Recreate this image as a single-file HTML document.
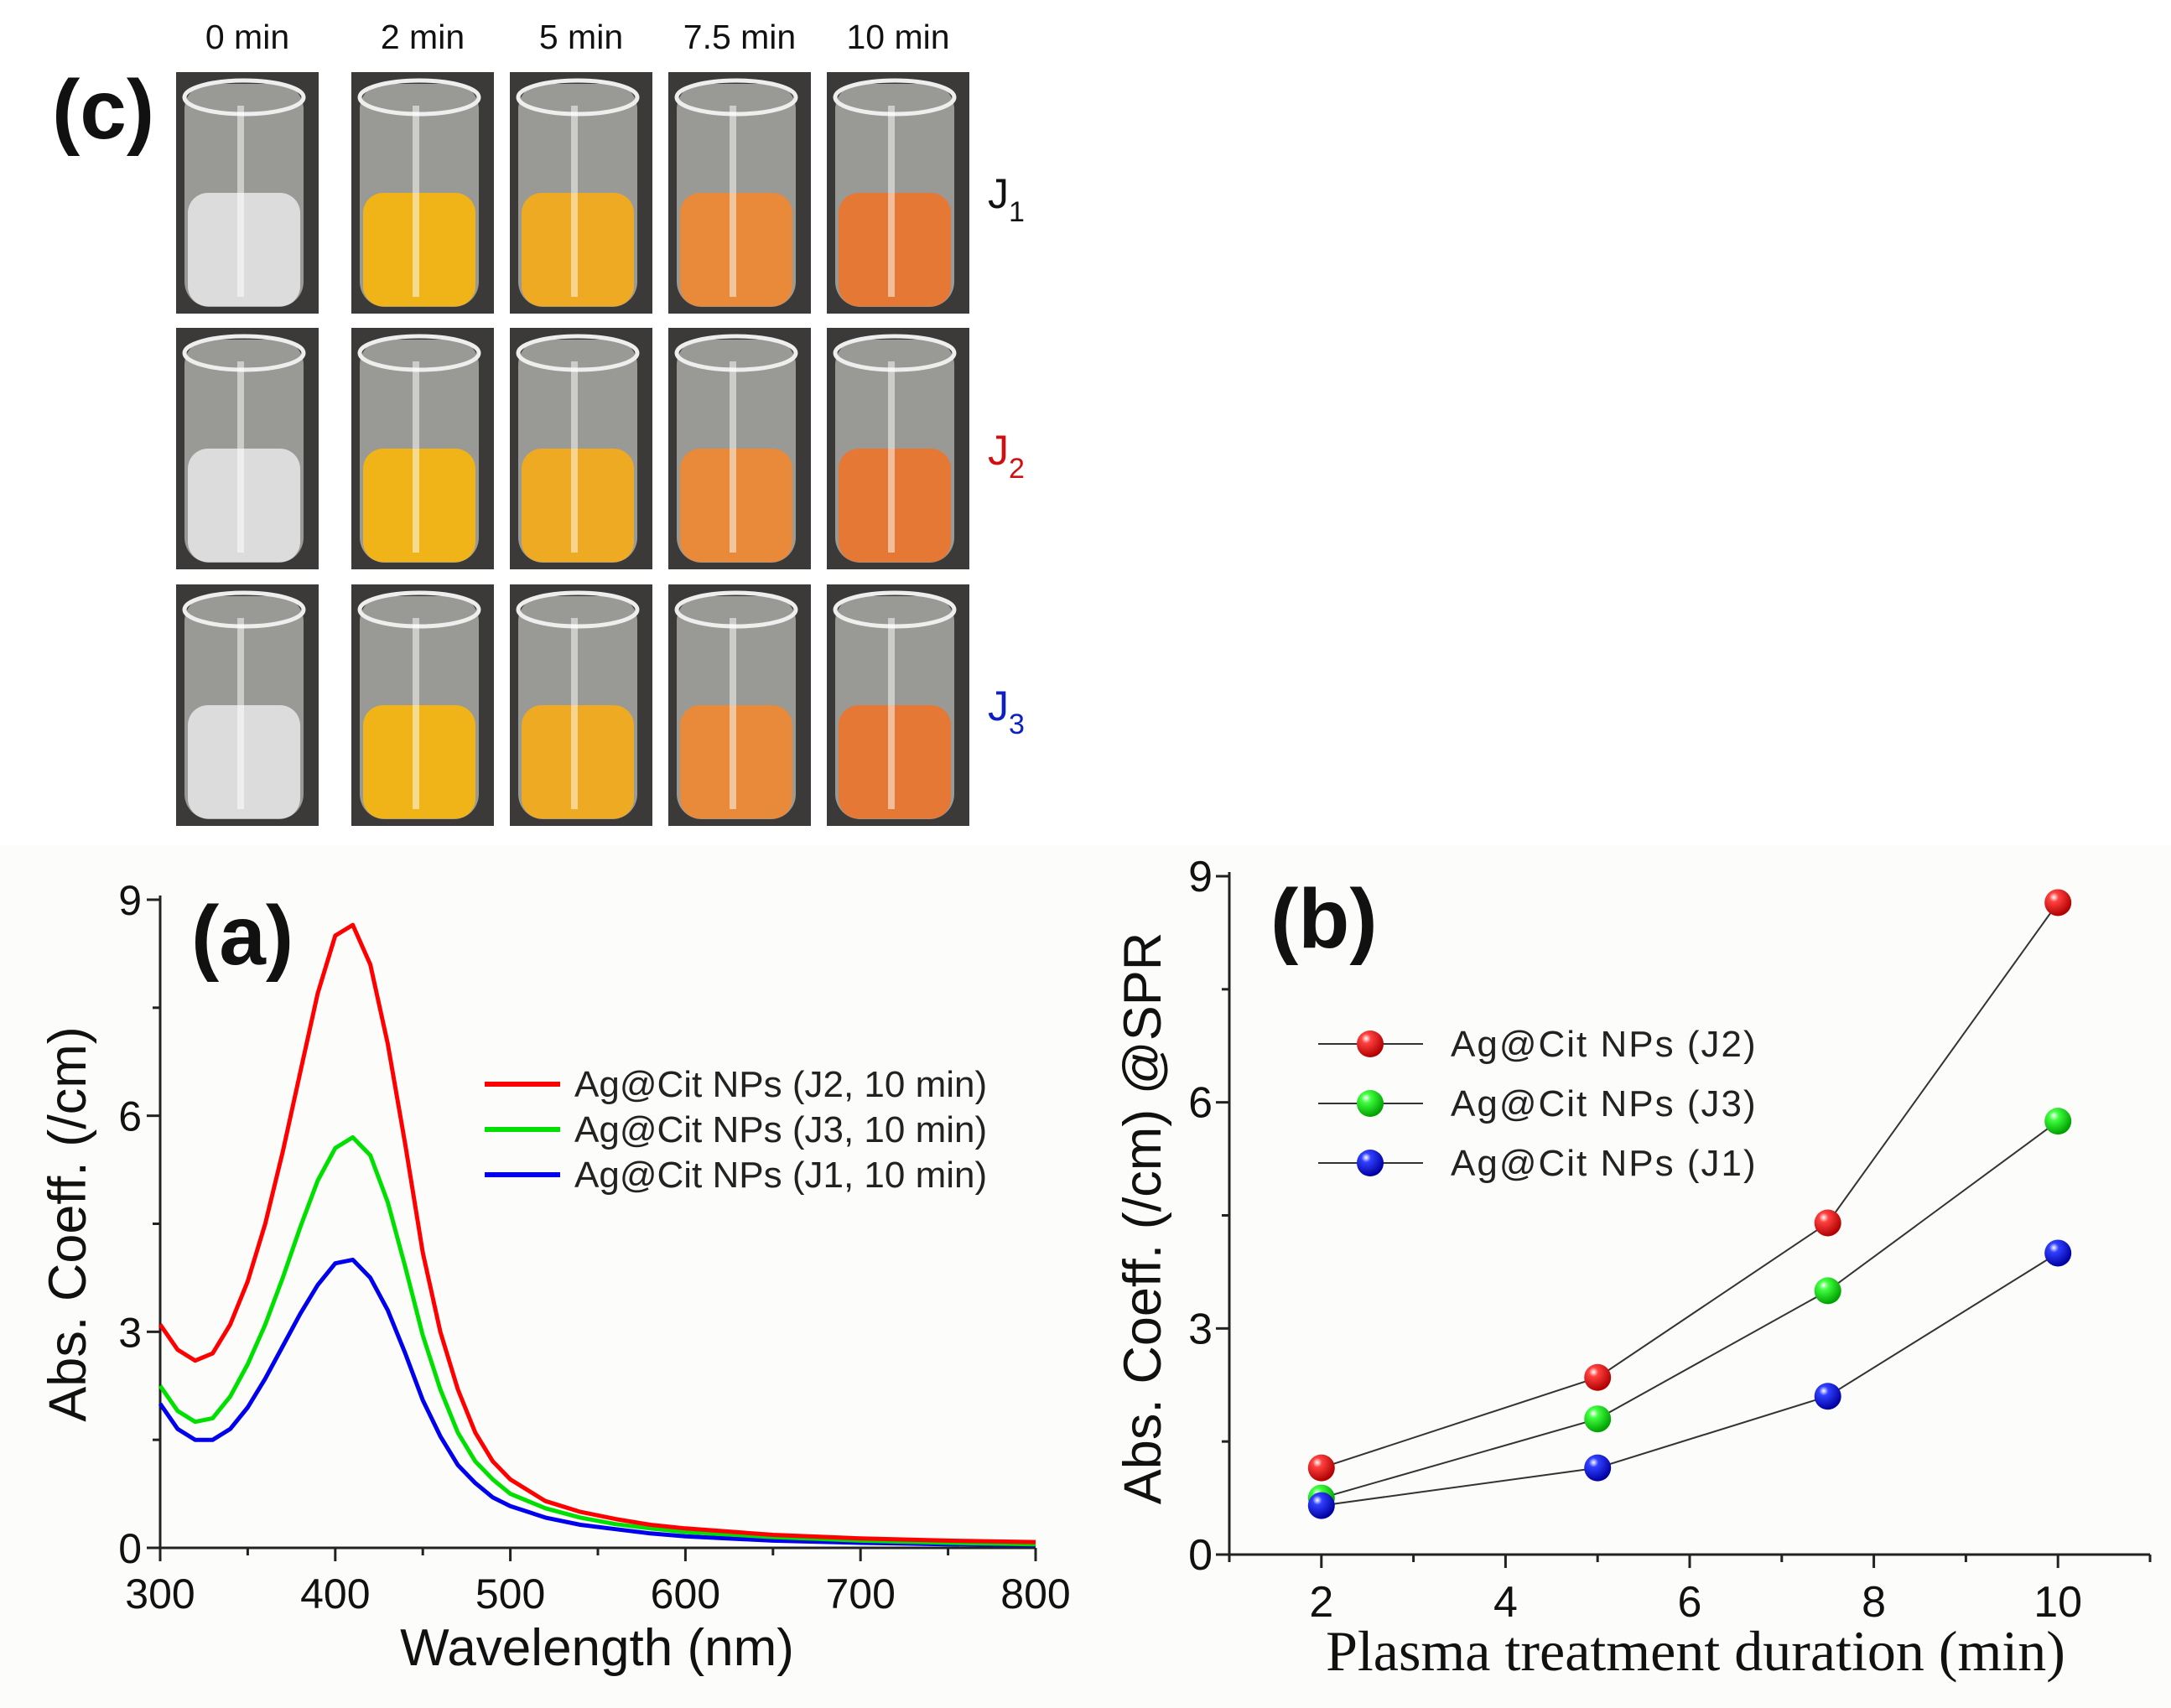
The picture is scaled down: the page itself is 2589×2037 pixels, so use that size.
<!DOCTYPE html>
<html><head><meta charset="utf-8"><style>
html,body{margin:0;padding:0;background:#fff;}
svg{display:block;font-family:"Liberation Sans",sans-serif;}
</style></head><body>
<svg id="fig" width="2589" height="2037" viewBox="0 0 2589 2037">
<defs>
<radialGradient id="gR" cx="0.35" cy="0.3" r="0.7"><stop offset="0" stop-color="#fff"/><stop offset="0.25" stop-color="#ff4040"/><stop offset="1" stop-color="#b00000"/></radialGradient>
<radialGradient id="gG" cx="0.35" cy="0.3" r="0.7"><stop offset="0" stop-color="#fff"/><stop offset="0.25" stop-color="#40ff40"/><stop offset="1" stop-color="#00a000"/></radialGradient>
<radialGradient id="gB" cx="0.35" cy="0.3" r="0.7"><stop offset="0" stop-color="#fff"/><stop offset="0.25" stop-color="#3040ff"/><stop offset="1" stop-color="#0000a0"/></radialGradient>
</defs>
<rect x="0" y="1008" width="1300" height="1029" fill="#fcfcfa"/>
<rect x="1300" y="1008" width="1289" height="1029" fill="#fcfcfa"/>
<g id="photos"></g>
<g id="pa"></g>
<g id="pb"></g>
</svg>
<script>
// ---- Panel (a) data ----
const wl = [300,310,320,330,340,350,360,370,380,390,400,410,420,430,440,450,460,470,480,490,500,520,540,560,580,600,650,700,750,800];
const absJ2 = [3.1,2.75,2.6,2.7,3.1,3.7,4.5,5.5,6.6,7.7,8.5,8.65,8.1,7.0,5.6,4.1,3.0,2.2,1.6,1.2,0.95,0.65,0.5,0.4,0.32,0.27,0.18,0.13,0.1,0.08];
const absJ3 = [2.25,1.9,1.75,1.8,2.1,2.55,3.1,3.75,4.45,5.1,5.55,5.7,5.45,4.8,3.9,2.95,2.2,1.6,1.2,0.95,0.75,0.55,0.42,0.33,0.27,0.22,0.15,0.1,0.07,0.05];
const absJ1 = [2.0,1.65,1.5,1.5,1.65,1.95,2.35,2.8,3.25,3.65,3.95,4.0,3.75,3.3,2.7,2.05,1.55,1.15,0.9,0.7,0.58,0.42,0.32,0.26,0.2,0.16,0.1,0.07,0.05,0.04];
const aXTicks = [300,400,500,600,700,800];
const aYTicks = [0,3,6,9];
const aLegend = ["Ag@Cit NPs (J2, 10 min)","Ag@Cit NPs (J3, 10 min)","Ag@Cit NPs (J1, 10 min)"];
// ---- Panel (b) data ----
const dur = [2,5,7.5,10];
const sprJ2 = [1.15,2.35,4.4,8.65];
const sprJ3 = [0.75,1.8,3.5,5.75];
const sprJ1 = [0.65,1.15,2.1,4.0];
const bXTicks = [2,4,6,8,10];
const bYTicks = [0,3,6,9];
const bLegend = ["Ag@Cit NPs (J2)","Ag@Cit NPs (J3)","Ag@Cit NPs (J1)"];
// ---- Panel (c) ----
const times = ["0 min","2 min","5 min","7.5 min","10 min"];
const liquid = ["#dcdcdc","#f0b418","#eeaa22","#e88a3a","#e67836"];

const NS="http://www.w3.org/2000/svg";
function el(tag,attrs,parent,txt){const e=document.createElementNS(NS,tag);for(const k in attrs)e.setAttribute(k,attrs[k]);if(txt!==undefined)e.textContent=txt;parent.appendChild(e);return e;}

// ===== Photos =====
const ph=document.getElementById('photos');
const colX=[210,419,608,797,986], colW=170, rowY=[86,391,697], rowH=288;
times.forEach((t,i)=>{
  const tx=el('text',{x:colX[i]+colW/2,y:58,'font-size':41,'text-anchor':'middle',fill:'#111'},ph,t);
  
  
});
rowY.forEach((ry,r)=>{
  colX.forEach((cx,i)=>{
    const g=el('g',{},ph);
    
    
    el('rect',{x:cx,y:ry,width:colW,height:rowH,fill:'#3b3a38'},g);
    el('rect',{x:cx+10,y:ry+14,width:colW-28,height:rowH-22,rx:30,fill:'#d8d8d4',opacity:0.6},g);
    el('rect',{x:cx+14,y:ry+rowH*0.5,width:colW-36,height:rowH*0.47,rx:24,fill:liquid[i]},g);
    el('ellipse',{cx:cx+colW/2-4,cy:ry+30,rx:colW/2-14,ry:20,fill:'none',stroke:'#eee','stroke-width':5},g);
    el('rect',{x:cx+colW/2-12,y:ry+40,width:8,height:rowH-60,fill:'#fff',opacity:0.5},g);
  });
});
const cl=el('text',{x:62,y:165,'font-size':100,'font-weight':'bold',fill:'#111'},ph,'(c)');

const jcol=['#111','#d01010','#1020c0'];
[231,537,842].forEach((y,i)=>{
  const t=el('text',{x:1178,y:y+17,'font-size':50,fill:jcol[i]},ph);
  
  
  el('tspan',{},t,'J');
  el('tspan',{dy:16,'font-size':34},t,String(i+1));
});

// ===== Chart (a) =====
const pa=document.getElementById('pa');
const aX0=191,aX1=1235,aY0=1846,aY1=1073;
const ax=v=>aX0+(v-300)/500*(aX1-aX0);
const ay=v=>aY0-(v/9)*(aY0-aY1);
el('line',{x1:aX0,y1:aY1-5,x2:aX0,y2:aY0,stroke:'#222','stroke-width':3},pa);
el('line',{x1:aX0,y1:aY0,x2:aX1,y2:aY0,stroke:'#222','stroke-width':3},pa);
for(let v=300;v<=800;v+=50){const big=v%100===0;el('line',{x1:ax(v),y1:aY0,x2:ax(v),y2:aY0+(big?16:9),stroke:'#222','stroke-width':3},pa);}
for(let v=0;v<=9;v+=1.5){const big=v%3===0;el('line',{x1:aX0,y1:ay(v),x2:aX0-(big?16:9),y2:ay(v),stroke:'#222','stroke-width':3},pa);}
aXTicks.forEach(v=>{const t=el('text',{x:ax(v),y:1918,'font-size':50,'text-anchor':'middle',fill:'#111'},pa,String(v));});
aYTicks.forEach(v=>{const t=el('text',{x:aX0-22,y:ay(v)+18,'font-size':50,'text-anchor':'end',fill:'#111'},pa,String(v));});
const axt=el('text',{x:712,y:1986,'font-size':62,'text-anchor':'middle',fill:'#111'},pa,'Wavelength (nm)');

const ayt=el('text',{x:0,y:0,'font-size':63,'text-anchor':'middle',fill:'#111',transform:'translate(102,1460) rotate(-90)'},pa,'Abs. Coeff. (/cm)');

const al=el('text',{x:228,y:1150,'font-size':100,'font-weight':'bold',fill:'#111'},pa,'(a)');

const aSeries=[[absJ2,'#ff0000'],[absJ3,'#00e000'],[absJ1,'#0000ee']];
aSeries.slice().reverse().forEach(([arr,c],k)=>{
  const pts=wl.map((w,i)=>ax(w).toFixed(1)+','+ay(arr[i]).toFixed(1)).join(' ');
  const p=el('polyline',{points:pts,fill:'none',stroke:c,'stroke-width':5,'stroke-linejoin':'round'},pa);
  
  
});
aLegend.forEach((lab,i)=>{
  const y=1293+i*54;
  const g=el('g',{},pa);
  
  
  el('line',{x1:578,y1:y,x2:668,y2:y,stroke:aSeries[i][1],'stroke-width':6},g);
  el('text',{x:685,y:y+15,'font-size':44,fill:'#222'},g,lab);
});

// ===== Chart (b) =====
const pb=document.getElementById('pb');
const bX0=1466,bX1=2564,bY0=1854,bY1=1045;
const bx=v=>bX0+(v-1)/10*(bX1-bX0);
const by=v=>bY0-(v/9)*(bY0-bY1);
el('line',{x1:bX0,y1:bY1-5,x2:bX0,y2:bY0,stroke:'#222','stroke-width':3},pb);
el('line',{x1:bX0,y1:bY0,x2:bX1,y2:bY0,stroke:'#222','stroke-width':3},pb);
for(let v=1;v<=11;v+=1){const big=v%2===0;el('line',{x1:bx(v),y1:bY0,x2:bx(v),y2:bY0+(big?16:9),stroke:'#222','stroke-width':3},pb);}
for(let v=0;v<=9;v+=1.5){const big=v%3===0;el('line',{x1:bX0,y1:by(v),x2:bX0-(big?16:9),y2:by(v),stroke:'#222','stroke-width':3},pb);}
bXTicks.forEach(v=>{const t=el('text',{x:bx(v),y:1928,'font-size':52,'text-anchor':'middle',fill:'#111'},pb,String(v));});
bYTicks.forEach(v=>{const t=el('text',{x:bX0-20,y:by(v)+18,'font-size':52,'text-anchor':'end',fill:'#111'},pb,String(v));});
const bxt=el('text',{x:2022,y:1992,'font-size':68,'text-anchor':'middle',fill:'#111','font-family':'Liberation Serif, serif'},pb,'Plasma treatment duration (min)');

const byt=el('text',{x:0,y:0,'font-size':63,'text-anchor':'middle',fill:'#111',transform:'translate(1384,1453) rotate(-90)'},pb,'Abs. Coeff. (/cm) @SPR');

const bl=el('text',{x:1515,y:1130,'font-size':100,'font-weight':'bold',fill:'#111'},pb,'(b)');

const bSeries=[[sprJ2,'url(#gR)'],[sprJ3,'url(#gG)'],[sprJ1,'url(#gB)']];
bSeries.forEach(([arr,f])=>{
  const pts=dur.map((d,i)=>bx(d).toFixed(1)+','+by(arr[i]).toFixed(1)).join(' ');
  const p=el('polyline',{points:pts,fill:'none',stroke:'#333','stroke-width':2},pb);
  
  
});
bSeries.forEach(([arr,f])=>{
  dur.forEach((d,i)=>{
    const c=el('circle',{cx:bx(d),cy:by(arr[i]),r:16,fill:f},pb);
    
    
  });
});
bLegend.forEach((lab,i)=>{
  const y=1245+i*71;
  const g=el('g',{},pb);
  
  
  el('line',{x1:1572,y1:y,x2:1697,y2:y,stroke:'#333','stroke-width':2},g);
  el('circle',{cx:1634,cy:y,r:16,fill:bSeries[i][1]},g);
  el('text',{x:1730,y:y+15,'font-size':44,'letter-spacing':2,fill:'#222'},g,lab);
});
</script>
</body></html>
